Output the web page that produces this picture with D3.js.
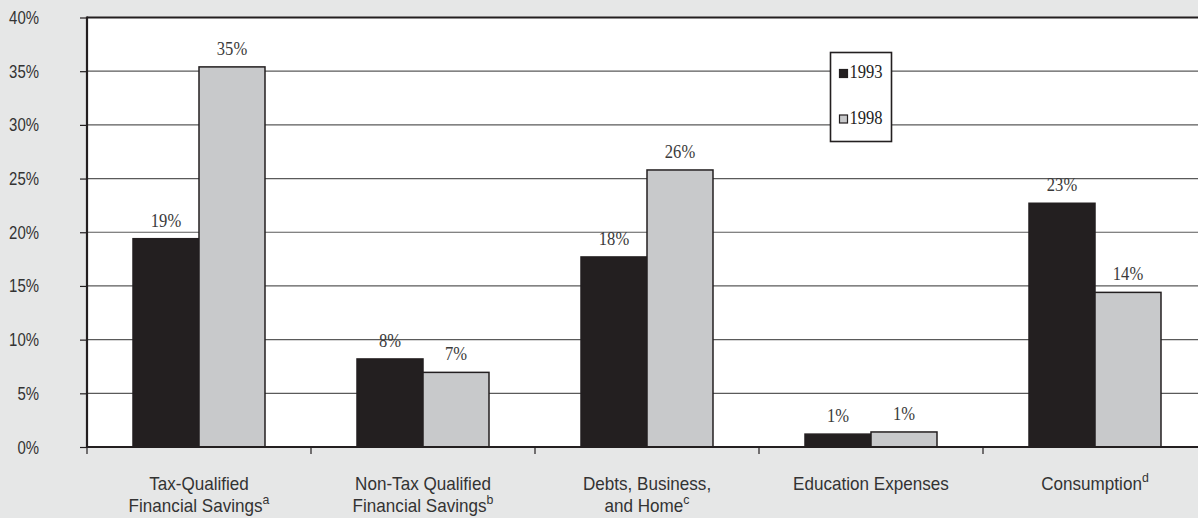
<!DOCTYPE html>
<html>
<head>
<meta charset="utf-8">
<script src="https://cdn.jsdelivr.net/npm/d3@7"></script>
<style>
  html, body { margin: 0; padding: 0; background: #e6e7e7; }
  svg { display: block; }
</style>
</head>
<body>
<svg id="chart" width="1198" height="518"></svg>
<script>
// Share of lump-sum distributions by use, 1993 vs 1998
const categories = [
  "Tax-Qualified|Financial Savings",
  "Non-Tax Qualified|Financial Savings",
  "Debts, Business,|and Home",
  "Education Expenses",
  "Consumption"
];
const footnotes = ["a", "b", "c", "", "d"];
const seriesNames = ["1993", "1998"];
const values1993 = [0.194, 0.082, 0.177, 0.012, 0.227];
const values1998 = [0.354, 0.0695, 0.258, 0.014, 0.144];
const yTicks = [0, 0.05, 0.10, 0.15, 0.20, 0.25, 0.30, 0.35, 0.40];

const W = 1198, H = 518;
const margin = { left: 87, top: 17.5, bottom: 447 };
const dark = "#231f20", light = "#c8c9cb", gridColor = "#5a5a5a", textColor = "#333";
const sansFont = "'Liberation Sans', Arial, sans-serif";
const serifFont = "'Liberation Serif', serif";

const svg = d3.select("#chart");

const x = d3.scaleBand().domain(categories).range([margin.left, margin.left + 5 * 224]).paddingInner(0).paddingOuter(0);
const xSub = d3.scaleBand().domain(seriesNames).range([0, x.bandwidth()]).paddingInner(0).paddingOuter(0.697);
const y = d3.scaleLinear().domain([0, 0.4]).range([margin.bottom, margin.top]);

// plot background
svg.append("rect")
  .attr("x", margin.left).attr("y", margin.top)
  .attr("width", W - margin.left).attr("height", margin.bottom - margin.top)
  .attr("fill", "#ffffff");

// horizontal grid lines
svg.append("g").selectAll("line")
  .data(yTicks.filter(t => t > 0 && t < 0.4))
  .join("line")
  .attr("x1", margin.left).attr("x2", W)
  .attr("y1", d => y(d)).attr("y2", d => y(d))
  .attr("stroke", gridColor).attr("stroke-width", 1.2);

// top border
svg.append("line")
  .attr("x1", margin.left).attr("x2", W)
  .attr("y1", y(0.4)).attr("y2", y(0.4))
  .attr("stroke", dark).attr("stroke-width", 2);

// bars
const rows = categories.map((c, i) => ({ cat: c, vals: [
  { key: "1993", v: values1993[i] },
  { key: "1998", v: values1998[i] }
]}));

const groups = svg.append("g").selectAll("g")
  .data(rows).join("g")
  .attr("transform", d => `translate(${x(d.cat)},0)`);

groups.selectAll("rect")
  .data(d => d.vals).join("rect")
  .attr("x", d => xSub(d.key))
  .attr("width", xSub.bandwidth())
  .attr("y", d => y(d.v))
  .attr("height", d => y(0) - y(d.v))
  .attr("fill", d => d.key === "1993" ? dark : light)
  .attr("stroke", dark).attr("stroke-width", 1.5);

// value labels
const fmt = d3.format(".0%");
groups.selectAll("text")
  .data(d => d.vals).join("text")
  .attr("transform", d => `translate(${xSub(d.key) + xSub.bandwidth() / 2},${y(d.v) - 12}) scale(0.85,1)`)
  .attr("text-anchor", "middle")
  .attr("font-family", serifFont)
  .attr("font-size", 19.5)
  .attr("fill", "#3a3a3a")
  .text(d => fmt(d.v));

// left axis: ticks and condensed labels
const yAxis = d3.axisLeft(y).tickValues(yTicks).tickFormat("").tickSize(7);
const gy = svg.append("g").attr("transform", `translate(${margin.left},0)`).call(yAxis);
gy.select(".domain").remove();
gy.selectAll(".tick line").attr("stroke", dark).attr("stroke-width", 1.2);
svg.append("g").selectAll("text")
  .data(yTicks).join("text")
  .attr("transform", d => `translate(39,${y(d) + 6.5}) scale(0.83,1)`)
  .attr("text-anchor", "end")
  .attr("font-family", sansFont).attr("font-size", 18)
  .attr("fill", textColor)
  .text(d => fmt(d));
svg.append("line")
  .attr("x1", margin.left).attr("x2", margin.left)
  .attr("y1", margin.top - 1).attr("y2", margin.bottom + 1)
  .attr("stroke", dark).attr("stroke-width", 2.2);

// bottom axis with category separators
svg.append("line")
  .attr("x1", margin.left).attr("x2", W)
  .attr("y1", y(0)).attr("y2", y(0))
  .attr("stroke", dark).attr("stroke-width", 2);
svg.append("g").selectAll("line")
  .data(categories).join("line")
  .attr("x1", d => x(d)).attr("x2", d => x(d))
  .attr("y1", y(0)).attr("y2", y(0) + 7)
  .attr("stroke", dark).attr("stroke-width", 1.2);

// category labels (horizontally condensed)
const catGroups = svg.append("g").selectAll("g")
  .data(categories.map((c, i) => ({ c, lines: c.split("|"), note: footnotes[i] })))
  .join("g")
  .attr("transform", d => `translate(${x(d.c) + x.bandwidth() / 2},0) scale(0.95,1)`);

catGroups.each(function (d) {
  const t = d3.select(this).append("text")
    .attr("text-anchor", "middle")
    .attr("font-family", sansFont)
    .attr("font-size", 18)
    .attr("fill", textColor);
  d.lines.forEach((line, k) => {
    t.append("tspan").attr("x", 0).attr("y", 490 + k * 22).text(line);
    if (k === d.lines.length - 1 && d.note) {
      t.append("tspan").attr("font-size", 13).attr("dy", -8).text(d.note);
    }
  });
});

// legend
const legend = svg.append("g").attr("transform", "translate(830.5,52.5)");
legend.append("rect")
  .attr("width", 61).attr("height", 89)
  .attr("fill", "#fff").attr("stroke", dark).attr("stroke-width", 1.6);
const legendItems = legend.selectAll("g")
  .data(seriesNames).join("g")
  .attr("transform", (d, i) => `translate(9,${17 + i * 45.5})`);
legendItems.append("rect")
  .attr("width", 8).attr("height", 8)
  .attr("fill", (d, i) => i === 0 ? dark : light)
  .attr("stroke", dark).attr("stroke-width", 1.2);
legendItems.append("text")
  .attr("transform", "translate(10,8.5) scale(0.85,1)")
  .attr("font-family", serifFont).attr("font-size", 19.5)
  .attr("fill", "#222")
  .text(d => d);
</script>
</body>
</html>
